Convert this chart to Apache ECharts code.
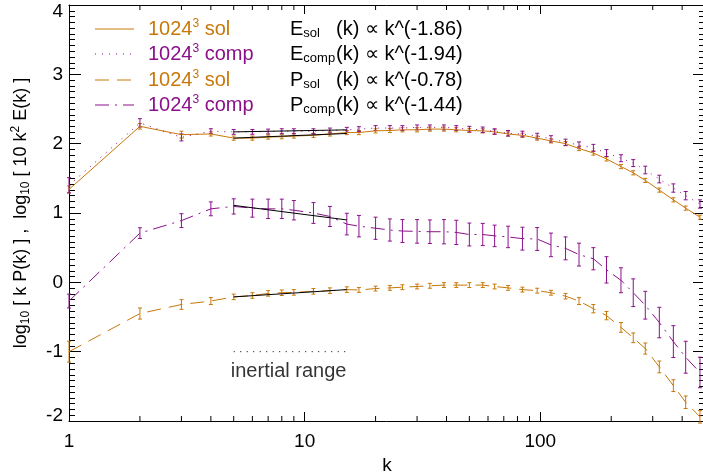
<!DOCTYPE html>
<html><head><meta charset="utf-8">
<script src="https://cdn.jsdelivr.net/npm/echarts@6/dist/echarts.min.js"></script>
<style>html,body{margin:0;padding:0;background:#fff}#c{width:703px;height:476px}</style>
</head><body><div id="c"></div>
<script>
// ---- data ----
const kVals = [1,2,3,4,5,6,7,8,9,10.9,12.8,15.1,17,20,23,26,30,34,39,44,50,57,64,73,84,97,111,128,146,168,191,220,248,279,320,367,414,476];
const eSol  = [1.34,2.25,2.13,2.14,2.08,2.08,2.095,2.10,2.11,2.12,2.14,2.16,2.16,2.185,2.19,2.20,2.20,2.21,2.21,2.20,2.19,2.185,2.17,2.14,2.12,2.08,2.04,2.00,1.93,1.865,1.78,1.67,1.58,1.47,1.33,1.19,1.07,0.94];
const eSolErr = [0.05,0.04,0.05,0.03,0.03,0.03,0.03,0.03,0.03,0.03,0.03,0.03,0.03,0.03,0.03,0.03,0.03,0.03,0.03,0.03,0.03,0.03,0.03,0.03,0.03,0.03,0.03,0.03,0.03,0.03,0.03,0.03,0.03,0.03,0.03,0.03,0.03,0.03];
const eComp = [1.40,2.30,2.09,2.18,2.17,2.17,2.175,2.18,2.18,2.18,2.19,2.20,2.21,2.225,2.225,2.225,2.235,2.235,2.235,2.225,2.21,2.20,2.175,2.15,2.14,2.11,2.07,2.02,1.98,1.94,1.865,1.79,1.72,1.62,1.49,1.36,1.25,1.13];
const eCompErr = [0.11,0.06,0.05,0.035,0.035,0.035,0.035,0.035,0.035,0.035,0.035,0.035,0.035,0.035,0.035,0.035,0.035,0.035,0.035,0.035,0.04,0.04,0.04,0.04,0.04,0.04,0.045,0.045,0.045,0.05,0.05,0.05,0.05,0.055,0.055,0.06,0.06,0.06];
const pSol  = [-1.00,-0.45,-0.32,-0.27,-0.21,-0.19,-0.16,-0.15,-0.145,-0.13,-0.12,-0.105,-0.11,-0.09,-0.08,-0.07,-0.06,-0.05,-0.04,-0.04,-0.04,-0.04,-0.06,-0.08,-0.105,-0.12,-0.15,-0.20,-0.27,-0.38,-0.48,-0.65,-0.80,-0.955,-1.22,-1.49,-1.73,-1.94];
const pSolErr = [0.15,0.08,0.07,0.05,0.04,0.04,0.04,0.04,0.04,0.04,0.04,0.04,0.035,0.035,0.035,0.035,0.035,0.035,0.035,0.035,0.035,0.035,0.035,0.035,0.035,0.035,0.035,0.04,0.05,0.06,0.06,0.07,0.07,0.08,0.085,0.085,0.09,0.09];
const pComp = [-0.27,0.71,0.89,1.06,1.095,1.07,1.06,1.06,1.04,1.00,0.95,0.84,0.81,0.78,0.755,0.74,0.735,0.73,0.73,0.72,0.69,0.69,0.67,0.655,0.63,0.625,0.54,0.49,0.40,0.34,0.18,0.03,-0.15,-0.33,-0.58,-0.855,-1.08,-1.30];
const pCompErr = [0.10,0.077,0.10,0.10,0.11,0.13,0.14,0.14,0.14,0.15,0.145,0.156,0.155,0.16,0.16,0.165,0.17,0.17,0.175,0.175,0.165,0.16,0.155,0.155,0.165,0.165,0.17,0.165,0.165,0.16,0.19,0.18,0.20,0.20,0.22,0.23,0.23,0.22];
// power-law fits over the inertial range
const fitK = [5, 15.1];
const fitESol = [2.08, 2.147];
const fitEComp = [2.17, 2.199];
const fitPSol = [-0.21, -0.105];
const fitPComp = [1.11, 0.90];
const inertialY = [-1.0, -1.0];
const inertialLabel = [[8.55, -1.28]];
// axis ticks
const xMinorTicks = [2,3,4,5,6,7,8,9,20,30,40,50,60,70,80,90,200,300,400];
const legendRows = [
  {name:'sol', law:'(k) \u221D k^(-1.86)', sym:'E', sub:'sol'},
  {name:'comp', law:'(k) \u221D k^(-1.94)', sym:'E', sub:'comp'},
  {name:'sol', law:'(k) \u221D k^(-0.78)', sym:'P', sub:'sol'},
  {name:'comp', law:'(k) \u221D k^(-1.44)', sym:'P', sub:'comp'}
];

const ORANGE = '#c8780a';
const PURPLE = '#8b118b';
const FONT = '"Liberation Sans", Arial, Helvetica, sans-serif';
const FS = 20;

const pairs = (ys) => kVals.map((k,i)=>[k, ys[i]]);
function lineSeries(ys, color, type, xs) {
  const data = xs ? xs.map((k,i)=>[k, ys[i]]) : pairs(ys);
  return {type:'line', data, showSymbol:false, symbol:'none', silent:true, z:3,
    lineStyle:{color, width:1, type}, itemStyle:{color}};
}
function errSeries(ys, errs, color) {
  return {type:'custom', silent:true, clip:false, z:2,
    data: kVals.map((k,i)=>[k, ys[i]-errs[i], ys[i]+errs[i]]),
    encode:{x:0, y:[1,2]},
    renderItem(params, api) {
      const k = api.value(0);
      const a = api.coord([k, api.value(1)]);
      const b = api.coord([k, api.value(2)]);
      const w = 2, st = {stroke: color, lineWidth: 1};
      return {type:'group', children:[
        {type:'line', shape:{x1:a[0],y1:a[1],x2:b[0],y2:b[1]}, style:st},
        {type:'line', shape:{x1:a[0]-w,y1:a[1],x2:a[0]+w,y2:a[1]}, style:st},
        {type:'line', shape:{x1:b[0]-w,y1:b[1],x2:b[0]+w,y2:b[1]}, style:st}
      ]};
    }};
}

const tickSeries = {type:'custom', silent:true, clip:false, z:5,
  data: xMinorTicks.map(k=>[k]),
  encode:{x:0},
  renderItem(params, api) {
    const k = api.value(0);
    const b = api.coord([k, -2]);
    const t = api.coord([k, 4]);
    const st = {stroke:'#000', lineWidth:1};
    return {type:'group', children:[
      {type:'line', shape:{x1:b[0],y1:b[1],x2:b[0],y2:b[1]-5}, style:st},
      {type:'line', shape:{x1:t[0],y1:t[1],x2:t[0],y2:t[1]+5}, style:st}
    ]};
  }};

function axisLineBlack() { return {show:true, onZero:false, lineStyle:{color:'#000', width:1}}; }
function xAxisCfg(pos, labels) {
  return {type:'log', logBase:10, min:1, max:500, position:pos,
    axisLine: axisLineBlack(),
    axisTick:{show:true, inside:true, length:9, lineStyle:{color:'#000'}},
    axisLabel:{show:labels, fontSize:19, color:'#000', margin:11, fontFamily:FONT, showMaxLabel:false},
    splitLine:{show:false},
    name: labels ? 'k' : '', nameLocation:'middle', nameGap:33,
    nameTextStyle:{fontSize:19, color:'#000', fontFamily:FONT}};
}
function yAxisCfg(pos, labels) {
  const cfg = {type:'value', min:-2, max:4, interval:1, position:pos,
    axisLine: axisLineBlack(),
    axisTick:{show:true, inside:true, length:12, lineStyle:{color:'#000'}},
    minorTick:{show:true, splitNumber:12, length:6, lineStyle:{color:'#000'}},
    axisLabel:{show:labels, fontSize:19, color:'#000', margin:6, fontFamily:FONT,
      formatter:(v)=> v===4 ? '{top|4}' : (v===-2 ? '{bot|-2}' : String(v)),
      rich:{top:{fontSize:19, color:'#000', fontFamily:FONT, padding:[14,0,0,0]},
            bot:{fontSize:19, color:'#000', fontFamily:FONT, padding:[0,0,10,0]}}},
    splitLine:{show:false}, minorSplitLine:{show:false}};
  if (labels) {
    cfg.name = '{t|log}{s|10}{t| [ k P(k) ] ,  log}{s|10}{t| [ 10 k}{p|2}{t| E(k) ]}';
    cfg.nameLocation = 'middle';
    cfg.nameGap = 37;
    cfg.nameTextStyle = {fontFamily:FONT, color:'#000', rich:{
      t:{fontSize:18, lineHeight:22, color:'#000', fontFamily:FONT},
      s:{fontSize:12, lineHeight:12, color:'#000', verticalAlign:'bottom', fontFamily:FONT},
      p:{fontSize:12, lineHeight:12, color:'#000', verticalAlign:'top', fontFamily:FONT}
    }};
  }
  return cfg;
}

// legend drawn as graphic elements
const rowY = [29, 54, 80, 105];
const legendStyles = [
  {color:ORANGE, dash:null},
  {color:PURPLE, dash:[1,6]},
  {color:ORANGE, dash:[14,8]},
  {color:PURPLE, dash:[14,6,2,6]}
];
const graphics = [];
legendRows.forEach((r,i)=>{
  const ls = legendStyles[i];
  graphics.push({type:'line', silent:true, shape:{x1:95, y1:rowY[i], x2:134, y2:rowY[i]},
    style:{stroke:ls.color, lineWidth:1, lineDash:ls.dash}});
  graphics.push({type:'text', silent:true, x:148, y:rowY[i], style:{
    text:'{a|1024}{b|3}{a| ' + r.name + '}', verticalAlign:'middle', align:'left',
    rich:{a:{fontSize:FS, lineHeight:22, fill:ls.color, fontFamily:FONT},
          b:{fontSize:12, lineHeight:12, fill:ls.color, verticalAlign:'top', fontFamily:FONT}}}});
  graphics.push({type:'text', silent:true, x:290, y:rowY[i], style:{
    text:'{a|' + r.sym + '}{s|' + r.sub + '}', verticalAlign:'middle', align:'left',
    rich:{a:{fontSize:FS, lineHeight:22, fill:'#000', fontFamily:FONT},
          s:{fontSize:13, lineHeight:13, fill:'#000', verticalAlign:'bottom', fontFamily:FONT}}}});
  graphics.push({type:'text', silent:true, x:336, y:rowY[i], style:{
    text:r.law, verticalAlign:'middle', align:'left', fontSize:FS, fill:'#000', fontFamily:FONT}});
});

const option = {
  animation:false,
  backgroundColor:'#fff',
  grid:{left:69, top:5, width:636, height:416, containLabel:false, outerBoundsMode:'none'},
  xAxis:[xAxisCfg('bottom', true), xAxisCfg('top', false)],
  yAxis:[yAxisCfg('left', true), yAxisCfg('right', false)],
  graphic: graphics,
  series:[
    errSeries(eSol, eSolErr, ORANGE),
    errSeries(eComp, eCompErr, PURPLE),
    errSeries(pSol, pSolErr, ORANGE),
    errSeries(pComp, pCompErr, PURPLE),
    lineSeries(eSol, ORANGE, 'solid'),
    lineSeries(eComp, PURPLE, [1,6]),
    lineSeries(pSol, ORANGE, [14,8]),
    lineSeries(pComp, PURPLE, [14,6,2,6]),
    Object.assign(lineSeries(fitESol, '#000', 'solid', fitK), {z:6}),
    Object.assign(lineSeries(fitEComp, '#000', 'solid', fitK), {z:6}),
    Object.assign(lineSeries(fitPSol, '#000', 'solid', fitK), {z:6}),
    Object.assign(lineSeries(fitPComp, '#000', 'solid', fitK), {z:6}),
    lineSeries(inertialY, '#000', [1,5.5], fitK),
    {type:'scatter', data:inertialLabel, symbolSize:1, silent:true,
      itemStyle:{color:'rgba(0,0,0,0)'},
      label:{show:true, position:'inside', formatter:'inertial range', fontSize:FS, color:'#000', fontFamily:FONT}},
    tickSeries
  ]
};
const chart = echarts.init(document.getElementById('c'), null, {renderer:'canvas'});
chart.setOption(option);
</script>
</body></html>
